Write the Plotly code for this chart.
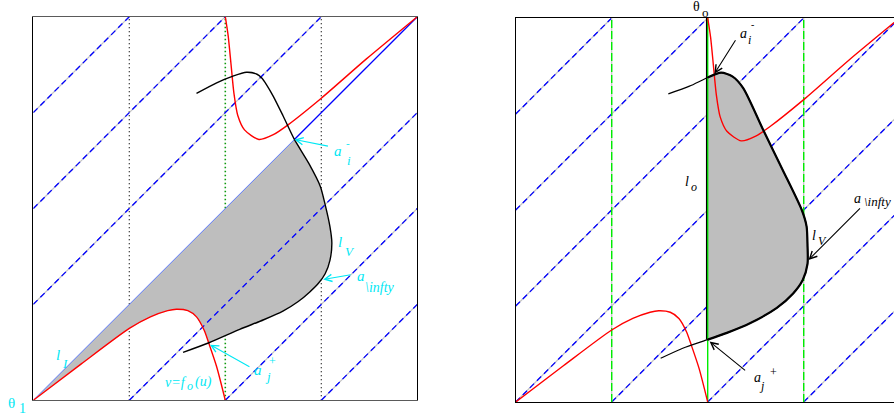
import plotly.graph_objects as go

# ---------------- data (units of the torus square [0,4]) -------------
# red curve v = f_o(u), two branches
F1_U = [0.0, 0.5, 1.0, 1.22, 1.40, 1.49, 1.61, 1.70, 1.78, 1.83, 1.91, 2.0]
F1_V = [0.0, 0.38, 0.75, 0.87, 0.935, 0.95, 0.935, 0.87, 0.73, 0.59, 0.35, 0.0]
F2_U = [2.0, 2.03, 2.06, 2.09, 2.13, 2.20, 2.35, 2.50, 2.65, 3.0, 3.47, 4.0]
F2_V = [4.0, 3.80, 3.50, 3.20, 2.97, 2.82, 2.72, 2.77, 2.87, 3.15, 3.56, 4.0]

# black curve l_V, left panel
LVL_U = [1.70, 1.91, 2.08, 2.22, 2.33, 2.38, 2.43, 2.50, 2.60, 2.72, 2.87, 2.99, 3.04, 3.09, 3.11,
         3.09, 3.04, 2.97, 2.88, 2.76, 2.60, 2.40, 2.15, 1.83, 1.56]
LVL_V = [3.20, 3.31, 3.38, 3.42, 3.40, 3.36, 3.29, 3.17, 2.97, 2.72, 2.47, 2.23, 2.04, 1.81, 1.64,
         1.46, 1.32, 1.22, 1.13, 1.03, 0.93, 0.84, 0.74, 0.60, 0.50]

# black curve l_V, right panel
LVR_U = [1.59, 1.81, 2.0, 2.14, 2.26, 2.37, 2.58, 2.78, 2.98, 3.03, 3.04, 3.04, 2.99, 2.89, 2.72,
         2.44, 2.20, 2.0, 1.74, 1.51]
LVR_V = [3.21, 3.29, 3.38, 3.43, 3.39, 3.27, 2.83, 2.42, 2.00, 1.83, 1.62, 1.44, 1.27, 1.13, 0.98,
         0.82, 0.72, 0.65, 0.56, 0.455]

DIAG_OFFSETS = [3, 2, 1, 0, -1, -2, -3]   # lines v = u + c
LEFT_VERTICALS = [1, 2, 3]
RIGHT_VERTICALS = [1, 3]
L_O = 2.0

# marked points
A_I_LEFT = (2.72, 2.72)
A_J_LEFT = (1.84, 0.58)
A_INF_LEFT = (3.02, 1.26)
A_I_RIGHT = (2.07, 3.42)
A_J_RIGHT = (2.02, 0.63)
A_INF_RIGHT = (3.05, 1.48)

# ---------------- styles ----------------
W, H = 894, 415
BLUE = "#0000ff"
RED = "#ff0000"
GREEN = "#00ee00"
CYAN = "#00e8f4"
FILL = "#bebebe"
UNDER = "#c4c4c4"
FONT = "Liberation Serif"

fig = go.Figure()


def add(xs, ys, panel, **kw):
    xa, ya = ("x", "y") if panel == 0 else ("x2", "y2")
    fig.add_trace(go.Scatter(x=xs, y=ys, xaxis=xa, yaxis=ya, mode="lines",
                             hoverinfo="skip", showlegend=False, **kw))


def seg(c):
    u0, u1 = max(0, -c), min(4, 4 - c)
    return [u0, u1], [u0 + c, u1 + c]


# ---------------- left panel ----------------
for u in LEFT_VERTICALS:
    if u == 2:
        add([u, u], [0, 4], 0, line=dict(color="#0f9a0f", width=1.6, dash="1.5px,2.5px"))
    else:
        add([u, u], [0, 4], 0, line=dict(color="black", width=1.2, dash="1px,3px"))
for c in DIAG_OFFSETS:
    if c != 0:
        xs, ys = seg(c)
        add(xs, ys, 0, line=dict(color=UNDER, width=1.2))

# gray region: diagonal -> l_V -> f_o
i0 = LVL_U.index(A_I_LEFT[0])
i1 = LVL_U.index(1.83)
j1 = F1_U.index(1.83)
fx = [0.0, A_I_LEFT[0]] + LVL_U[i0:i1 + 1] + F1_U[:j1 + 1][::-1]
fy = [0.0, A_I_LEFT[1]] + LVL_V[i0:i1 + 1] + F1_V[:j1 + 1][::-1]
add(fx, fy, 0, fill="toself", fillcolor=FILL, line=dict(width=0))

for c in DIAG_OFFSETS:
    if c != 0:
        xs, ys = seg(c)
        add(xs, ys, 0, line=dict(color=BLUE, width=1.3, dash="6px,4px"))
add([0, A_I_LEFT[0]], [0, A_I_LEFT[1]], 0, line=dict(color="#4f6fff", width=0.9))
add([A_I_LEFT[0], 4], [A_I_LEFT[1], 4], 0, line=dict(color=BLUE, width=1.3))
add(F1_U, F1_V, 0, line=dict(color=RED, width=1.4, shape="spline", smoothing=0.7))
add(F2_U, F2_V, 0, line=dict(color=RED, width=1.4, shape="spline", smoothing=0.7))
add(LVL_U, LVL_V, 0, line=dict(color="black", width=1.4, shape="spline", smoothing=0.7))

# ---------------- right panel ----------------
for c in DIAG_OFFSETS:
    xs, ys = seg(c)
    add(xs, ys, 1, line=dict(color=UNDER, width=1.2))
    add(xs, ys, 1, line=dict(color=BLUE, width=1.3, dash="6px,4px"))
for u in RIGHT_VERTICALS:
    add([u, u], [0, 4], 1, line=dict(color=UNDER, width=1.2))
    add([u, u], [0, 4], 1, line=dict(color=GREEN, width=1.4, dash="8px,3px"))

k0 = LVR_U.index(L_O)
k1 = len(LVR_U) - 1 - LVR_U[::-1].index(L_O)
rx = LVR_U[k0:k1 + 1] + [L_O]
ry = LVR_V[k0:k1 + 1] + [LVR_V[k0]]
add(rx, ry, 1, fill="toself", fillcolor=FILL, line=dict(width=0))

add([L_O, L_O], [0, 4], 1, line=dict(color=GREEN, width=1.4))
add([L_O - 0.012, L_O - 0.012], [LVR_V[k1], 4], 1, line=dict(color="black", width=1.2))
add(F1_U, F1_V, 1, line=dict(color=RED, width=1.4, shape="spline", smoothing=0.7))
add(F2_U, F2_V, 1, line=dict(color=RED, width=1.4, shape="spline", smoothing=0.7))
add(LVR_U, LVR_V, 1, line=dict(color="black", width=1.2, shape="spline", smoothing=0.7))
add(LVR_U[k0:k1 + 1], LVR_V[k0:k1 + 1], 1,
    line=dict(color="black", width=2.2, shape="spline", smoothing=0.7))

# ---------------- axes ----------------
LX0, LX1, LY0, LY1 = 33.3, 417.3, 16.7, 400.3
RX0, RY0, RY1 = 515.7, 18.0, 402.0
ax_common = dict(showgrid=False, zeroline=False, showticklabels=False, ticks="", fixedrange=True)
fig.update_layout(
    width=W, height=H, margin=dict(l=0, r=0, t=0, b=0), autosize=False,
    paper_bgcolor="white", plot_bgcolor="white", showlegend=False,
    xaxis=dict(domain=[LX0 / W, LX1 / W], range=[0, 4], showline=True, mirror=True,
               linecolor="#5a5a5a", linewidth=1, **ax_common),
    yaxis=dict(domain=[1 - LY1 / H, 1 - LY0 / H], range=[0, 4], showline=True, mirror=True,
               linecolor="black", linewidth=1, **ax_common),
    xaxis2=dict(domain=[RX0 / W, 1.0], range=[0, (W - RX0) / 96.0], showline=True, mirror=True,
                linecolor="black", linewidth=1, anchor="y2", **ax_common),
    yaxis2=dict(domain=[1 - RY1 / H, 1 - RY0 / H], range=[0, 4], showline=True, mirror=False,
                linecolor="black", linewidth=1, anchor="x2", **ax_common),
)

# ---------------- labels ----------------
def label(text, px, py, color, size, italic=True):
    t = f"<i>{text}</i>" if italic else text
    fig.add_annotation(text=t, x=px / W, y=1 - py / H, xref="paper", yref="paper",
                       xanchor="center", yanchor="middle", showarrow=False,
                       font=dict(family=FONT, size=size, color=color))


def arrow(pt, dx, dy, panel, color):
    xa, ya = ("x", "y") if panel == 0 else ("x2", "y2")
    fig.add_annotation(x=pt[0], y=pt[1], xref=xa, yref=ya, ax=dx, ay=dy, text="",
                       showarrow=True, arrowhead=5, arrowsize=1.3, arrowwidth=1.1,
                       arrowcolor=color, standoff=0)


# left (cyan)
label("θ", 11, 403, CYAN, 15, italic=False)
label("1", 22, 408, CYAN, 14, italic=False)
label("l", 58, 355, CYAN, 15)
label("I", 65, 363, CYAN, 13)
label("v=f", 176, 382, CYAN, 14)
label("o", 190, 386, CYAN, 12)
label("(u)", 203, 382, CYAN, 14)
label("a", 258, 370, CYAN, 15)
label("+", 272, 361, CYAN, 12, italic=False)
label("j", 268, 376, CYAN, 13)
label("a", 338, 151, CYAN, 15)
label("-", 348, 143, CYAN, 11, italic=False)
label("i", 349, 160, CYAN, 13)
label("l", 340, 242, CYAN, 15)
label("V", 350, 251, CYAN, 13)
label("a", 361, 276, CYAN, 15)
label("\\infty", 380, 287, CYAN, 14)
arrow(A_I_LEFT, 35, 7, 0, CYAN)
arrow(A_INF_LEFT, 29, -5, 0, CYAN)
arrow(A_J_LEFT, 41, 23, 0, CYAN)

# right (black)
label("θ", 696, 7, "black", 14, italic=False)
label("o", 705, 13, "black", 13, italic=False)
label("a", 743, 34, "black", 14)
label("i", 749, 40, "black", 12)
label("-", 752, 25, "black", 10, italic=False)
label("l", 687, 181, "black", 14)
label("o", 694, 187, "black", 12)
label("l", 814, 235, "black", 14)
label("V", 822, 241, "black", 12)
label("a", 857, 199, "black", 14)
label("\\infty", 877, 201, "black", 13)
label("a", 757, 377, "black", 14)
label("j", 762, 386, "black", 12)
label("+", 773, 372, "black", 12, italic=False)
arrow(A_I_RIGHT, 22, -35, 1, "black")
arrow(A_INF_RIGHT, 53, -53, 1, "black")
arrow(A_J_RIGHT, 37, 30, 1, "black")

fig.write_html("out.html", config={"displayModeBar": False, "staticPlot": True},
               post_script="document.body.style.margin='0';document.body.style.overflow='hidden';")
